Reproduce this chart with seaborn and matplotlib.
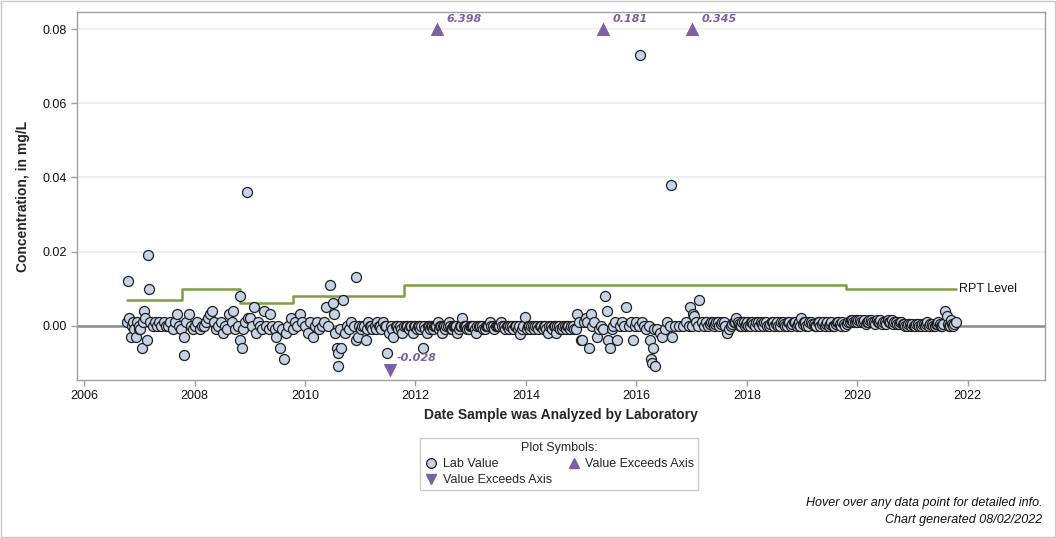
import matplotlib
matplotlib.use("Agg")
import matplotlib.pyplot as plt
import matplotlib.patches as mpatches
from matplotlib.lines import Line2D
import seaborn as sns
import pandas as pd

# ---- Lab values (decimal year, mg/L) ----
dates_2006 = [2006.78, 2006.80, 2006.82, 2006.84, 2006.86, 2006.88, 2006.90, 2006.93, 2006.96, 2006.99]
vals_2006 = [0.001, 0.012, 0.002, -0.003, 0.000, 0.001, -0.001, -0.003, 0.001, -0.001]

dates_2007 = [2007.00, 2007.02, 2007.05, 2007.07, 2007.09, 2007.11, 2007.13, 2007.15, 2007.18, 2007.20,
              2007.24, 2007.28, 2007.32, 2007.36, 2007.40, 2007.44, 2007.48, 2007.52, 2007.56, 2007.60,
              2007.64, 2007.68, 2007.72, 2007.76, 2007.80, 2007.81, 2007.84, 2007.89, 2007.93, 2007.97]
vals_2007 = [0.000, -0.001, -0.006, 0.001, 0.004, 0.002, -0.004, 0.019, 0.010, 0.001,
             0.000, 0.001, 0.000, 0.001, 0.000, 0.001, 0.000, 0.000, 0.001, -0.001,
             0.001, 0.003, 0.000, -0.001, -0.008, -0.003, 0.001, 0.003, 0.000, -0.001]

dates_2008 = [2008.01, 2008.05, 2008.09, 2008.13, 2008.17, 2008.21, 2008.25, 2008.27, 2008.31, 2008.35,
              2008.39, 2008.43, 2008.47, 2008.51, 2008.55, 2008.59, 2008.63, 2008.67, 2008.70, 2008.74,
              2008.78, 2008.82, 2008.83, 2008.85, 2008.88, 2008.92, 2008.95, 2008.97]
vals_2008 = [0.000, 0.001, -0.001, 0.000, 0.000, 0.001, 0.002, 0.003, 0.004, 0.001,
             -0.001, 0.000, 0.001, -0.002, 0.000, -0.001, 0.003, 0.001, 0.004, -0.001,
             0.000, -0.004, 0.008, -0.006, -0.001, 0.001, 0.036, 0.002]

dates_2009 = [2009.01, 2009.04, 2009.08, 2009.11, 2009.14, 2009.18, 2009.22, 2009.26, 2009.30, 2009.34,
              2009.37, 2009.41, 2009.45, 2009.47, 2009.51, 2009.55, 2009.58, 2009.62, 2009.66, 2009.70,
              2009.74, 2009.78, 2009.82, 2009.86, 2009.90, 2009.94]
vals_2009 = [0.002, 0.000, 0.005, -0.002, 0.001, 0.000, -0.001, 0.004, 0.000, -0.001,
             0.003, 0.000, -0.001, -0.003, 0.000, -0.006, -0.001, -0.009, -0.002, 0.000,
             0.002, -0.001, 0.001, 0.000, 0.003, 0.001]

dates_2010 = [2010.00, 2010.05, 2010.09, 2010.14, 2010.18, 2010.22, 2010.26, 2010.30, 2010.34, 2010.38,
              2010.42, 2010.46, 2010.50, 2010.52, 2010.55, 2010.58, 2010.59, 2010.60, 2010.63, 2010.65,
              2010.68, 2010.72, 2010.76, 2010.80, 2010.84, 2010.88, 2010.92, 2010.93, 2010.95, 2010.98]
vals_2010 = [0.000, -0.002, 0.001, -0.003, 0.000, 0.001, -0.001, 0.000, 0.001, 0.005,
             0.000, 0.011, 0.006, 0.003, -0.002, -0.006, -0.011, -0.0075, -0.001, -0.006,
             0.007, -0.002, 0.000, -0.001, 0.001, 0.000, 0.013, -0.004, -0.003, 0.000]

dates_2011 = [2011.02, 2011.06, 2011.10, 2011.14, 2011.18, 2011.22, 2011.26, 2011.30, 2011.34, 2011.38,
              2011.42, 2011.46, 2011.48, 2011.52, 2011.56, 2011.60, 2011.64, 2011.68, 2011.72, 2011.76,
              2011.80, 2011.84, 2011.88, 2011.92, 2011.96]
vals_2011 = [-0.001, 0.000, -0.004, 0.001, 0.000, -0.001, 0.000, 0.001, 0.000, -0.001,
             0.001, 0.000, -0.0075, -0.002, 0.000, -0.003, 0.000, -0.001, 0.000, -0.002,
             0.000, 0.000, -0.001, 0.000, -0.002]

dates_2012 = [2012.00, 2012.04, 2012.08, 2012.13, 2012.16, 2012.20, 2012.24, 2012.28, 2012.32, 2012.36,
              2012.40, 2012.44, 2012.48, 2012.52, 2012.56, 2012.60, 2012.64, 2012.68, 2012.72, 2012.76,
              2012.80, 2012.85, 2012.88, 2012.92, 2012.96]
vals_2012 = [0.000, 0.000, -0.001, -0.006, 0.000, -0.002, 0.000, 0.000, -0.001, 0.000,
             0.001, 0.000, -0.002, 0.000, 0.000, 0.001, -0.001, 0.000, 0.000, -0.002,
             0.000, 0.002, 0.000, 0.000, -0.001]

dates_2013 = [2013.00, 2013.05, 2013.10, 2013.15, 2013.20, 2013.25, 2013.30, 2013.35, 2013.40, 2013.45,
              2013.50, 2013.55, 2013.60, 2013.65, 2013.70, 2013.75, 2013.80, 2013.85, 2013.90, 2013.95,
              2013.98]
vals_2013 = [0.000, 0.000, -0.002, 0.000, 0.000, -0.001, 0.000, 0.001, 0.000, 0.000,
             0.000, 0.001, 0.000, 0.000, -0.001, 0.000, 0.000, -0.001, -0.0024, 0.000,
             0.0023]

dates_2014 = [2014.02, 2014.06, 2014.10, 2014.15, 2014.20, 2014.25, 2014.30, 2014.35, 2014.40, 2014.45,
              2014.50, 2014.55, 2014.60, 2014.65, 2014.70, 2014.75, 2014.80, 2014.85, 2014.90, 2014.93,
              2014.96]
vals_2014 = [-0.001, 0.000, 0.000, -0.001, 0.000, 0.000, -0.001, 0.000, -0.002, 0.000,
             0.000, -0.002, 0.000, -0.001, 0.000, 0.000, -0.001, 0.000, -0.001, 0.003,
             0.001]

dates_2015 = [2015.00, 2015.02, 2015.05, 2015.08, 2015.11, 2015.14, 2015.17, 2015.20, 2015.24, 2015.28,
              2015.32, 2015.36, 2015.40, 2015.43, 2015.46, 2015.49, 2015.52, 2015.55, 2015.58, 2015.62,
              2015.65, 2015.70, 2015.74, 2015.78, 2015.82, 2015.86, 2015.90, 2015.93, 2015.97]
vals_2015 = [-0.004, -0.004, 0.001, 0.002, 0.001, -0.006, 0.003, 0.000, 0.001, -0.003,
             -0.001, 0.000, -0.001, 0.008, 0.004, -0.004, -0.006, -0.001, 0.000, 0.001,
             -0.004, 0.000, 0.001, 0.000, 0.005, 0.000, 0.001, -0.004, 0.000]

dates_2016 = [2016.00, 2016.04, 2016.07, 2016.10, 2016.14, 2016.18, 2016.22, 2016.24, 2016.26, 2016.28,
              2016.30, 2016.32, 2016.34, 2016.38, 2016.42, 2016.47, 2016.52, 2016.56, 2016.60, 2016.62,
              2016.64, 2016.70, 2016.78, 2016.84, 2016.90, 2016.95, 2016.98]
vals_2016 = [0.001, 0.000, 0.073, 0.001, 0.000, -0.001, 0.000, -0.004, -0.009, -0.010,
             -0.006, -0.001, -0.011, -0.001, -0.002, -0.003, -0.001, 0.001, 0.000, 0.038,
             -0.003, 0.000, 0.000, 0.000, 0.001, 0.000, 0.005]

dates_2017 = [2017.00, 2017.02, 2017.04, 2017.08, 2017.12, 2017.14, 2017.18, 2017.22, 2017.26, 2017.30,
              2017.35, 2017.40, 2017.45, 2017.50, 2017.55, 2017.60, 2017.65, 2017.68, 2017.72, 2017.76,
              2017.80, 2017.84, 2017.88, 2017.92, 2017.96]
vals_2017 = [0.000, 0.003, 0.0025, 0.001, 0.000, 0.007, 0.001, 0.000, 0.001, 0.000,
             0.001, 0.000, 0.001, 0.000, 0.001, 0.000, -0.002, -0.001, 0.000, 0.001,
             0.002, 0.001, 0.000, 0.001, 0.000]

dates_2018 = [2018.00, 2018.05, 2018.10, 2018.15, 2018.20, 2018.25, 2018.30, 2018.35, 2018.40, 2018.45,
              2018.50, 2018.55, 2018.60, 2018.65, 2018.70, 2018.75, 2018.80, 2018.85, 2018.90, 2018.95,
              2018.99]
vals_2018 = [0.001, 0.000, 0.001, 0.000, 0.001, 0.001, 0.000, 0.001, 0.000, 0.001,
             0.000, 0.001, 0.000, 0.001, 0.000, 0.001, 0.000, 0.001, 0.000, 0.001,
             0.002]

dates_2019 = [2019.03, 2019.08, 2019.13, 2019.18, 2019.23, 2019.28, 2019.33, 2019.38, 2019.43, 2019.48,
              2019.53, 2019.58, 2019.63, 2019.68, 2019.73, 2019.78, 2019.83, 2019.88, 2019.93, 2019.97]
vals_2019 = [0.001, 0.000, 0.001, 0.0005, 0.000, 0.001, 0.000, 0.001, 0.0005, 0.000,
             0.001, 0.000, 0.001, 0.0005, 0.001, 0.000, 0.001, 0.0015, 0.001, 0.0015]

dates_2020 = [2020.02, 2020.07, 2020.12, 2020.17, 2020.22, 2020.27, 2020.32, 2020.37, 2020.42, 2020.47,
              2020.52, 2020.57, 2020.62, 2020.67, 2020.72, 2020.77, 2020.82, 2020.87, 2020.92, 2020.97]
vals_2020 = [0.0015, 0.001, 0.0015, 0.001, 0.0015, 0.001, 0.0005, 0.001, 0.0015, 0.001,
             0.0005, 0.001, 0.0015, 0.001, 0.0005, 0.001, 0.0005, 0.000, 0.0005, 0.000]

dates_2021 = [2021.02, 2021.07, 2021.12, 2021.17, 2021.22, 2021.27, 2021.32, 2021.37, 2021.42, 2021.47,
              2021.52, 2021.56, 2021.59, 2021.62, 2021.66, 2021.70, 2021.74, 2021.78]
vals_2021 = [0.000, 0.0005, 0.000, 0.0005, 0.000, 0.001, 0.0005, 0.000, 0.0005, 0.001,
             0.000, 0.0005, 0.004, 0.0025, 0.000, 0.0015, 0.000, 0.001]

# additional samples in the densely sampled periods
dates_extra_a = [2011.04, 2011.12, 2011.20, 2011.28, 2011.36, 2011.44, 2011.58, 2011.66, 2011.74, 2011.82,
                 2011.90, 2011.98, 2012.02, 2012.06, 2012.10, 2012.18, 2012.22, 2012.26, 2012.30, 2012.34,
                 2012.38, 2012.42, 2012.46, 2012.50, 2012.54, 2012.58, 2012.62, 2012.66, 2012.70, 2012.74,
                 2012.78, 2012.82, 2012.90, 2012.94, 2012.98]
vals_extra_a = [0.000, -0.001, 0.000, -0.001, 0.000, 0.000, -0.001, 0.000, -0.001, 0.000,
                0.000, 0.000, -0.001, 0.000, 0.000, -0.001, 0.000, -0.001, 0.000, 0.000,
                0.000, -0.001, 0.000, 0.000, -0.001, 0.000, 0.000, -0.001, 0.000, 0.000,
                -0.001, 0.000, 0.000, -0.001, 0.000]

dates_extra_b = [2013.02, 2013.07, 2013.12, 2013.17, 2013.22, 2013.27, 2013.32, 2013.37, 2013.42, 2013.47,
                 2013.52, 2013.57, 2013.62, 2013.67, 2013.72, 2013.77, 2013.82, 2013.87, 2013.92,
                 2014.04, 2014.08, 2014.12, 2014.17, 2014.22, 2014.27, 2014.32, 2014.37, 2014.42, 2014.47,
                 2014.52, 2014.57, 2014.62, 2014.67, 2014.72, 2014.77, 2014.82, 2014.87]
vals_extra_b = [0.000, -0.001, 0.000, 0.000, -0.001, 0.000, 0.000, 0.000, -0.001, 0.000,
                0.000, 0.000, -0.001, 0.000, 0.000, -0.001, 0.000, 0.000, -0.001,
                0.000, -0.001, 0.000, 0.000, -0.001, 0.000, 0.000, -0.001, 0.000, -0.001,
                0.000, 0.000, -0.001, 0.000, -0.001, 0.000, 0.000, -0.001]

dates_extra_c = [2017.33, 2017.38, 2017.43, 2017.48, 2017.53, 2017.58, 2017.74, 2017.78, 2017.86, 2017.90,
                 2017.94, 2017.98, 2018.02, 2018.07, 2018.12, 2018.17, 2018.22, 2018.27, 2018.32, 2018.37,
                 2018.42, 2018.47, 2018.52, 2018.57, 2018.62, 2018.67, 2018.72, 2018.77, 2018.82, 2018.87,
                 2018.92, 2018.97]
vals_extra_c = [0.0005, 0.001, 0.0005, 0.001, 0.0005, 0.001, 0.0005, 0.001, 0.0005, 0.000,
                0.001, 0.0005, 0.000, 0.001, 0.0005, 0.001, 0.000, 0.0005, 0.001, 0.000,
                0.0005, 0.001, 0.0005, 0.000, 0.001, 0.0005, 0.000, 0.001, 0.0005, 0.001,
                0.0005, 0.000]

dates_extra_d = [2019.01, 2019.06, 2019.11, 2019.16, 2019.21, 2019.26, 2019.31, 2019.36, 2019.41, 2019.46,
                 2019.51, 2019.56, 2019.61, 2019.66, 2019.71, 2019.76, 2019.81, 2019.86, 2019.91, 2019.95,
                 2020.00, 2020.05, 2020.10, 2020.15, 2020.20, 2020.25, 2020.30, 2020.35, 2020.40, 2020.45,
                 2020.50, 2020.55, 2020.60, 2020.65, 2020.70, 2020.75, 2020.80, 2020.85, 2020.90, 2020.95,
                 2021.00, 2021.05, 2021.10, 2021.15, 2021.20, 2021.25, 2021.30, 2021.35, 2021.40, 2021.45,
                 2021.50, 2021.54, 2021.64, 2021.68, 2021.72, 2021.76]
vals_extra_d = [0.0005, 0.001, 0.000, 0.001, 0.0005, 0.000, 0.001, 0.0005, 0.000, 0.001,
                0.0005, 0.000, 0.0005, 0.001, 0.000, 0.0005, 0.0005, 0.001, 0.0015, 0.001,
                0.001, 0.0015, 0.001, 0.0005, 0.001, 0.0015, 0.001, 0.0015, 0.001, 0.0005,
                0.001, 0.0015, 0.001, 0.0005, 0.001, 0.0005, 0.001, 0.0005, 0.000, 0.0005,
                0.0005, 0.000, 0.0005, 0.000, 0.0005, 0.0005, 0.000, 0.0005, 0.000, 0.0005,
                0.0005, 0.000, 0.0005, 0.000, 0.0005, 0.0005]

# ---- Values beyond the axis range ----
up_dates = [2012.39, 2015.40, 2017.01]
up_labels = ["6.398", "0.181", "0.345"]
down_dates = [2011.54]
down_labels = ["-0.028"]

# ---- RPT level (step) ----
rpt_dates = [2006.78, 2007.77, 2008.83, 2009.79, 2011.80, 2019.79, 2021.78]
rpt_vals = [0.007, 0.010, 0.006, 0.008, 0.011, 0.010, 0.010]

x_ticks = [2006, 2008, 2010, 2012, 2014, 2016, 2018, 2020, 2022]
y_ticks = [0.00, 0.02, 0.04, 0.06, 0.08]
y_tick_labels = ["0.00", "0.02", "0.04", "0.06", "0.08"]

all_dates = (dates_2006 + dates_2007 + dates_2008 + dates_2009 + dates_2010 + dates_2011 +
             dates_2012 + dates_2013 + dates_2014 + dates_2015 + dates_2016 + dates_2017 +
             dates_2018 + dates_2019 + dates_2020 + dates_2021 +
             dates_extra_a + dates_extra_b + dates_extra_c + dates_extra_d)
all_vals = (vals_2006 + vals_2007 + vals_2008 + vals_2009 + vals_2010 + vals_2011 +
            vals_2012 + vals_2013 + vals_2014 + vals_2015 + vals_2016 + vals_2017 +
            vals_2018 + vals_2019 + vals_2020 + vals_2021 +
            vals_extra_a + vals_extra_b + vals_extra_c + vals_extra_d)
lab = pd.DataFrame({"date": all_dates, "value": all_vals}).sort_values("date")
rpt = pd.DataFrame({"date": rpt_dates, "value": rpt_vals})

Y_MIN, Y_MAX = -0.0147, 0.0847
UP_Y = 0.08
DOWN_Y = -0.012

sns.set_theme(style="white")
plt.rcParams["font.family"] = ["Liberation Sans", "DejaVu Sans"]

fig = plt.figure(figsize=(10.56, 5.38), dpi=100)
ax = fig.add_axes([0.0729, 0.2937, 0.9167, 0.684])

PURPLE = "#7a60a6"
GREEN = "#7f9f3f"

ax.set_xlim(2005.87, 2023.4)
ax.set_ylim(Y_MIN, Y_MAX)
ax.set_yticks(y_ticks)
ax.set_yticklabels(y_tick_labels)
ax.set_xticks(x_ticks)
ax.yaxis.grid(True, color="#ececec", linewidth=1.2)
ax.set_axisbelow(True)
ax.axhline(0, color="#8c8c8c", linewidth=1.8, zorder=1)

sns.lineplot(data=rpt, x="date", y="value", drawstyle="steps-post", color=GREEN,
             linewidth=1.8, estimator=None, ax=ax, zorder=2, legend=False)
ax.text(2021.85, 0.010, "RPT Level", fontsize=9, va="center", ha="left", color="#111111")

sns.scatterplot(data=lab, x="date", y="value", s=52, color="#c6d3e5", edgecolor="#1f1f1f",
                linewidth=0.9, ax=ax, zorder=3, legend=False)

up_df = pd.DataFrame({"date": up_dates, "value": [UP_Y] * len(up_dates)})
down_df = pd.DataFrame({"date": down_dates, "value": [DOWN_Y] * len(down_dates)})
sns.scatterplot(data=up_df, x="date", y="value", marker="^", s=75, color=PURPLE,
                edgecolor=PURPLE, ax=ax, zorder=4, legend=False)
sns.scatterplot(data=down_df, x="date", y="value", marker="v", s=75, color=PURPLE,
                edgecolor=PURPLE, ax=ax, zorder=4, legend=False)
for d, lbl in zip(up_dates, up_labels):
    ax.annotate(lbl, (d, UP_Y), xytext=(7, 4), textcoords="offset points",
                fontsize=8, fontweight="bold", fontstyle="italic", color=PURPLE,
                family="DejaVu Sans", ha="left", va="bottom")
for d, lbl in zip(down_dates, down_labels):
    ax.annotate(lbl, (d, DOWN_Y), xytext=(5, 5), textcoords="offset points",
                fontsize=8, fontweight="bold", fontstyle="italic", color=PURPLE,
                family="DejaVu Sans", ha="left", va="bottom")

for sp in ax.spines.values():
    sp.set_color("#a0a0a0")
    sp.set_linewidth(1)
ax.tick_params(axis="both", which="major", length=4, width=1, color="#a0a0a0",
               labelsize=9, labelcolor="#111111", direction="out", bottom=True, left=True)

ax.set_xlabel("Date Sample was Analyzed by Laboratory", fontsize=10, fontweight="bold", labelpad=4)
ax.set_ylabel("Concentration, in mg/L", fontsize=10, fontweight="bold", labelpad=9)

handles = [
    Line2D([], [], marker="o", linestyle="none", markersize=7, markerfacecolor="#c6d3e5",
           markeredgecolor="#1f1f1f", markeredgewidth=0.9, label="Lab Value"),
    Line2D([], [], marker="v", linestyle="none", markersize=7, markerfacecolor=PURPLE,
           markeredgecolor=PURPLE, label="Value Exceeds Axis"),
    Line2D([], [], marker="^", linestyle="none", markersize=7, markerfacecolor=PURPLE,
           markeredgecolor=PURPLE, label="Value Exceeds Axis"),
]
leg = fig.legend(handles=handles, ncol=2, loc="upper center", bbox_to_anchor=(0.5295, 0.1975),
                 title="Plot Symbols:", fontsize=9, title_fontsize=9, frameon=True,
                 fancybox=False, edgecolor="#bdbdbd", handletextpad=0.3, columnspacing=1.2,
                 borderpad=0.3, labelspacing=0.35, handlelength=1.2)
leg.get_frame().set_linewidth(1)

fig.text(0.987, 0.065, "Hover over any data point for detailed info.", ha="right", va="center",
         fontsize=9, fontstyle="italic", color="#111111")
fig.text(0.987, 0.033, "Chart generated 08/02/2022", ha="right", va="center",
         fontsize=9, fontstyle="italic", color="#111111")

fig.patches.append(mpatches.Rectangle((0.0005, 0.001), 0.999, 0.998, transform=fig.transFigure,
                                      fill=False, edgecolor="#c8c8c8", linewidth=1))

fig.savefig("out.png", dpi=100)
